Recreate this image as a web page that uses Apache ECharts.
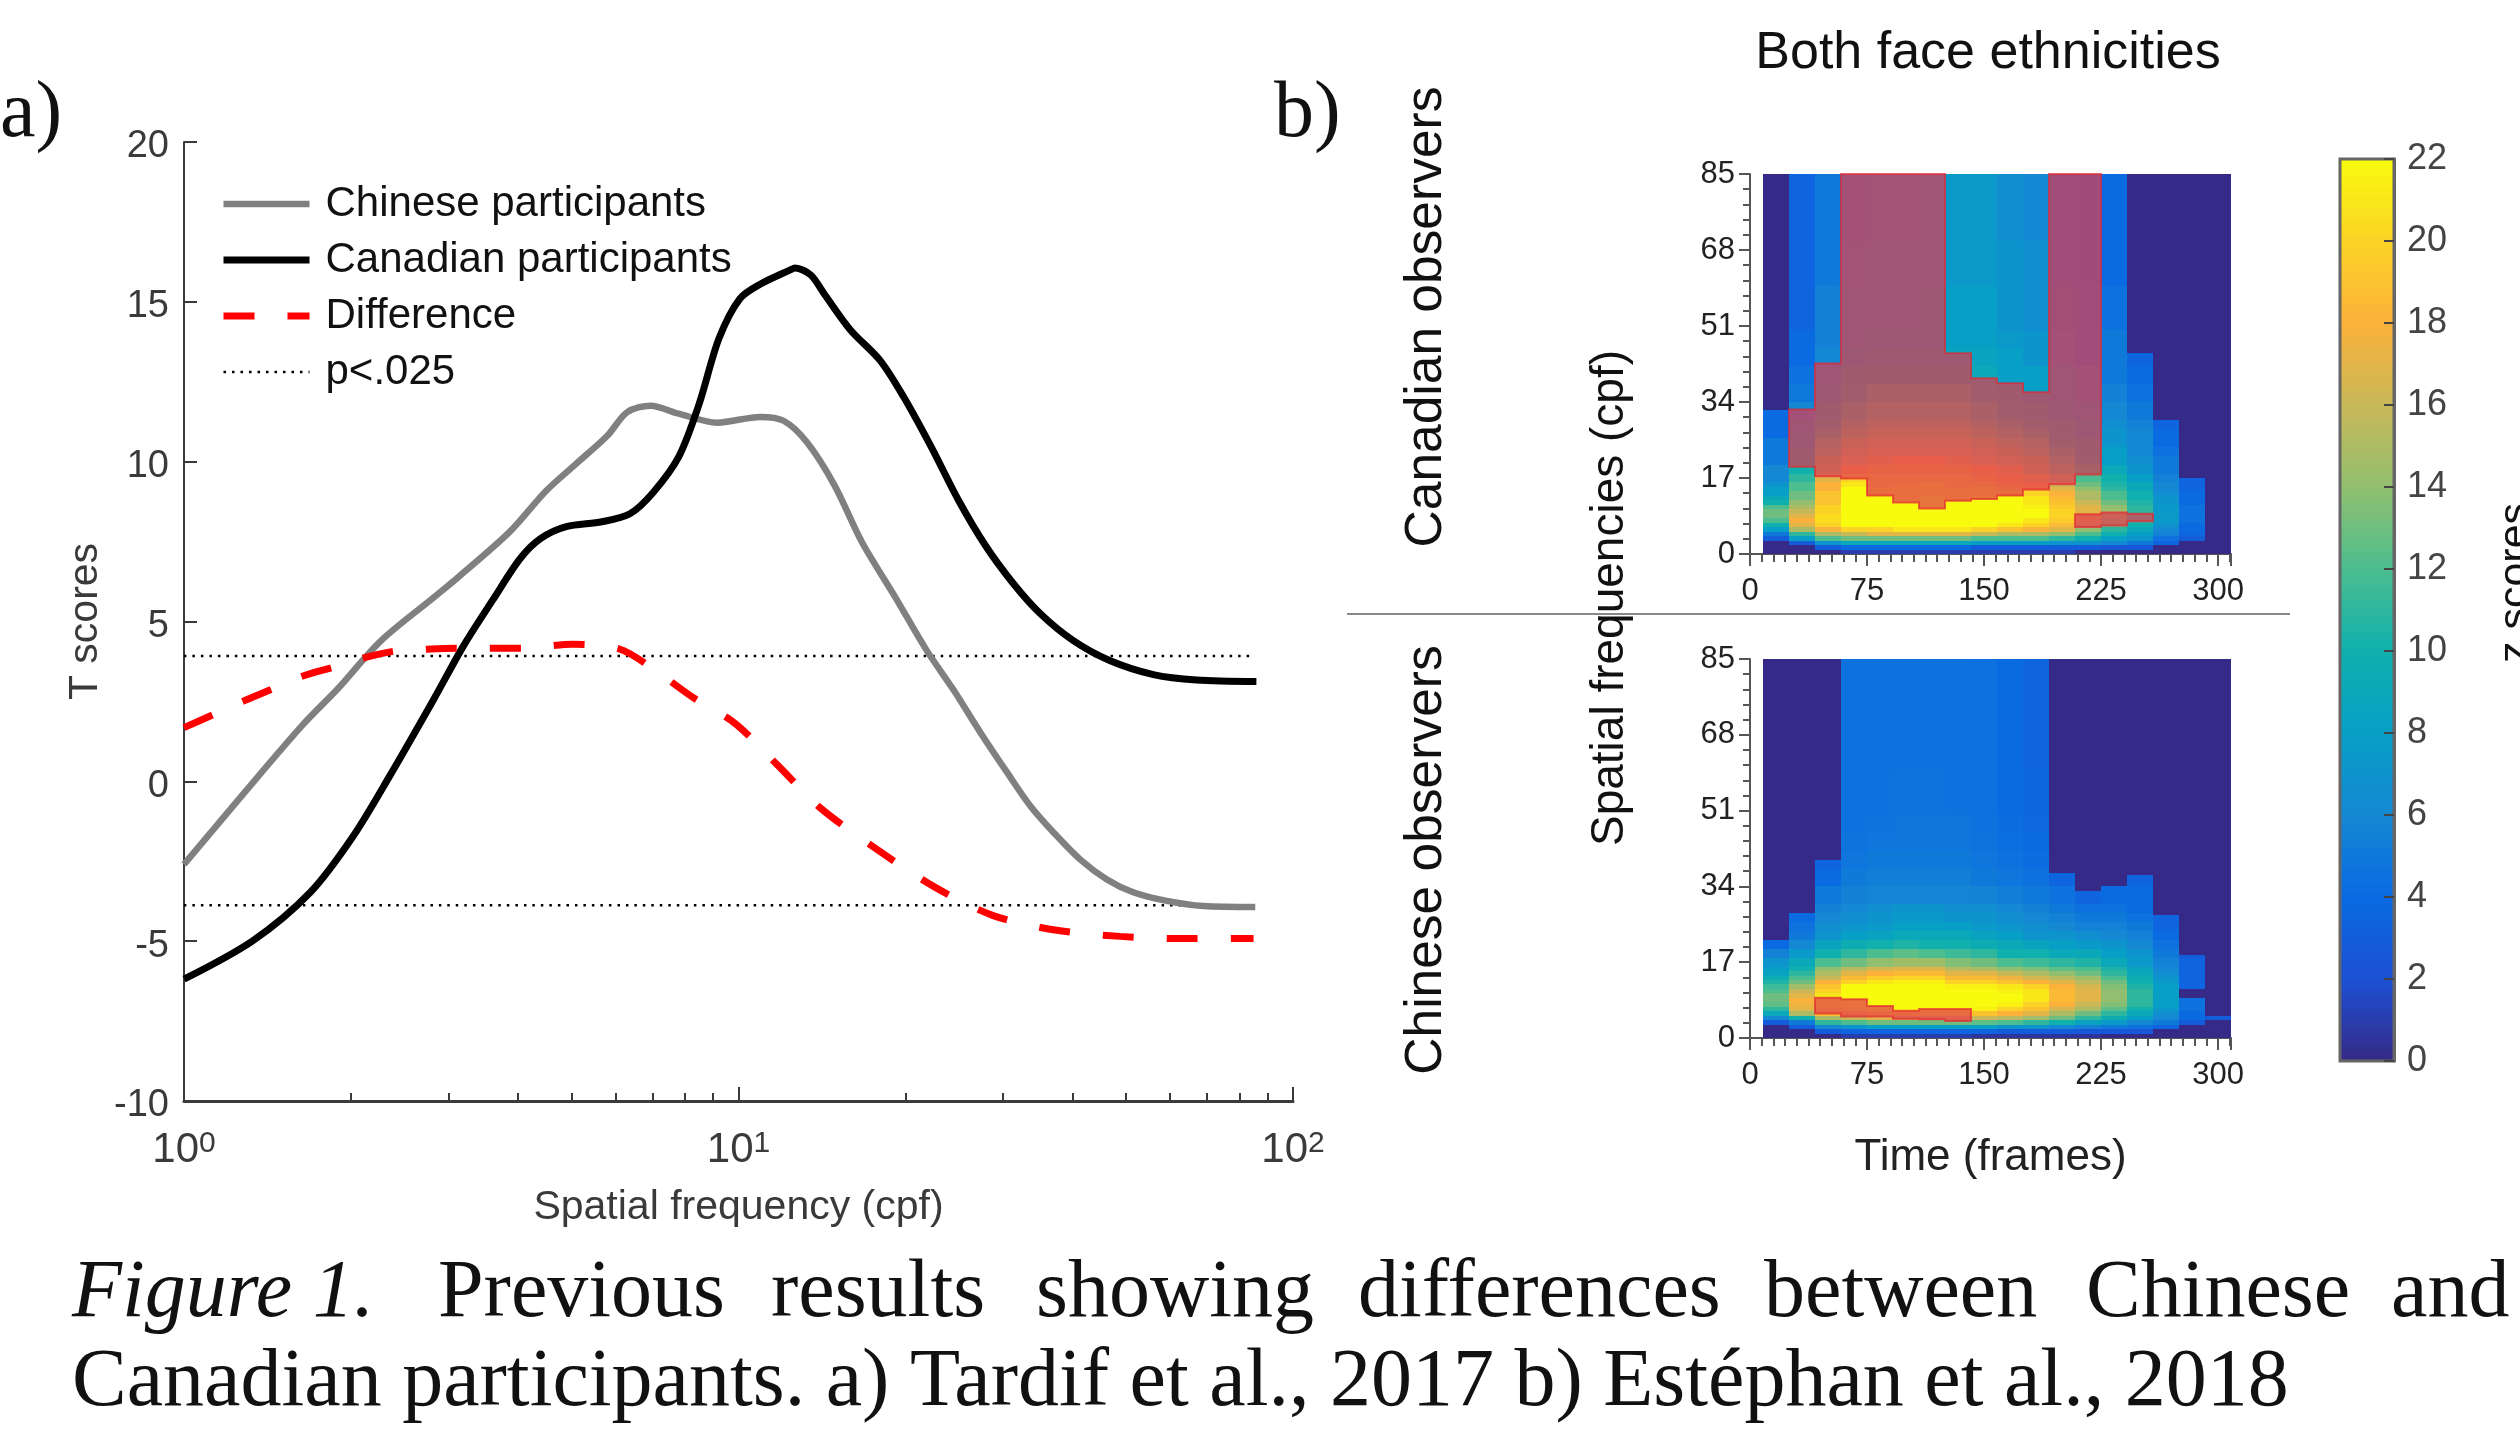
<!DOCTYPE html>
<html>
<head>
<meta charset="utf-8">
<title>Figure 1</title>
<script src="https://cdn.jsdelivr.net/npm/echarts@6/dist/echarts.min.js"></script>
<style>
html, body { margin: 0; padding: 0; background: #fff; overflow: hidden; }
#main { width: 2520px; height: 1431px; }
</style>
</head>
<body>
<div id="main"></div>
<script>
// panel a: [spatial frequency, T score]
var canadian = [[1,-6.19],[1.33,-4.99],[1.69,-3.47],[2.02,-1.71],[2.35,0.17],[2.82,2.56],[3.19,4.23],[3.61,5.69],[4.04,6.97],[4.4,7.6],[4.89,7.97],[5.67,8.12],[6.37,8.37],[7.01,9.03],[7.8,10.15],[8.49,11.8],[9.22,13.85],[10.06,15.1],[10.94,15.55],[12.4,16],[12.65,16.06],[13.5,15.84],[14.3,15.23],[15.9,14.13],[18,13.17],[19.8,12.06],[22.2,10.5],[24.9,8.81],[27.9,7.37],[31.3,6.19],[35,5.25],[40.1,4.41],[46.7,3.78],[56,3.34],[67,3.17],[85.9,3.12]];
var chinese = [[1,-2.6],[1.3,-0.25],[1.64,1.78],[1.89,2.88],[2.26,4.38],[2.82,5.75],[3.13,6.4],[3.87,7.81],[4.5,9.09],[5.1,9.94],[5.8,10.81],[6.3,11.55],[6.94,11.75],[7.8,11.5],[9.15,11.22],[10.94,11.4],[12.06,11.28],[13.3,10.6],[14.9,9.26],[16.7,7.48],[19.1,5.81],[21.8,4.12],[24.4,2.87],[27.3,1.53],[30.5,0.28],[33.6,-0.77],[37,-1.6],[41.3,-2.44],[46.1,-3.06],[51.5,-3.47],[59.2,-3.74],[68.9,-3.9],[85.5,-3.93]];
var difference = [[1,1.68],[1.13,2.09],[1.28,2.51],[1.45,2.9],[1.63,3.28],[1.85,3.56],[2.12,3.87],[2.39,4.07],[2.74,4.13],[3.1,4.16],[4.09,4.16],[5.02,4.29],[6.1,4.14],[6.91,3.6],[8.25,2.64],[9.86,1.81],[11.77,0.5],[14,-0.81],[17.4,-2.02],[22.6,-3.31],[28.8,-4.2],[37.2,-4.65],[48.8,-4.85],[63.4,-4.92],[84.9,-4.92]];
var thresholdUp = [[1,3.92],[85,3.92]];
var thresholdDown = [[1,-3.88],[85,-3.88]];

// panel b: bin edges of the heat maps
var timeEdges = [8.33,25,41.67,58.33,75,91.67,108.33,125,141.67,158.33,175,191.67,208.33,225,241.67,258.33,275,291.67,308.33];
var freqEdges = [0,1,2,3,4,5,6,7,8,9,10,11,12,13,14,15,16,18,20,22,24,26,28,30,34,38,42,46,50,60,70,85];

// z scores, one line per time bin, low frequency first
var zCanadian = [
	[0,0,0,3,5,8,10,12,13,13,12,10,9,8,8,7,6,6,5,5,5,4,4,4],
	[0,0,3,8,11,15,17,18,17,16,15,14,13,13,12,12,11,10,9,9,8,8,7,6,5,4.5,4,4,3.5,3.5,3.5],
	[0,3,7,12,15,18,20,20.5,20.5,20,20,19,19,19,18,18,17,15,14,13,12,11,10,9,8,7,6,5.5,5.5,5,5],
	[1,4,9,13,16,20,22,22,22,22,22,22,22,22,22,21,20,18,16,15,14,13,12,11,10,9,8,7,7,6.5,6],
	[1,4,9,13,17,20,22,22,22,22,22,22,22,21,21,20,20,19,17,16,15,14,13,12,11,9.5,8.5,8,7,7,6.5],
	[1,4,9,13,17,21,22,22,22,22,22,22,21,21,21,20.5,20,19,18,16,15,14,13,12,11,9.5,8.5,8,7,7,6.5],
	[1,4,9,13,17,21,22,22,22,22,22,22,22,21,21,21,20,19,18,16,15,14,13,12,11,9.5,8.5,8,7.5,7,7],
	[1,4,9,13,17,21,22,22,22,22,22,22,21,21,21,20,20,19,17,16,15,14,13,12,11,9.5,8.5,8,8,7.5,7.5],
	[1,3,8,12,16,20,22,22,22,22,22,22,22,21,21,20,19,18,16,15,14,13,12,11,10,9,8.5,8,8,7.5,7.5],
	[1,3,8,12,15,19,21,22,22,22,22,22,22,21,20,19,18,17,15,14,13,12,11,10,9,8,8,7.5,7,7,6.5],
	[1,3,8,12,15,18,20,21,22,22,21.5,21,21,20,19,18,17,15,14,13,12,11,10,9,8,8,7,7,6.5,6.5,6],
	[1,3,7,11,14,17,18.5,19.5,20,20,19.5,19,18.5,18,17,16,15,13,12,11,10,9,9,8,7,7,6,6,5.5,5,5],
	[0,3,7,10,12,14,16,17,17,17,17,16,15,15,14,13,12,11,10,9,9,8,8,7,6,6,5,5,5,4.5,4.5],
	[0,2.5,6,8,10,11,13,14,14.5,14.5,14,13,12,12,11,10.5,10,9,8,8,7,7,6.5,6,5.5,5,5,5,4.5,4,4],
	[0,2.5,5,7,8,9,10,11,11,11,11,10.5,10,10,9,9,8,7,6.5,6,6,6,5.5,5,4.5,4,3.5],
	[0,0,3.5,4.5,5.5,6,7,7.5,7.5,7.5,7.5,7,7,6.5,6,6,5.5,5,5,4.5,4,4,3.5,3.5],
	[0,0,0,3,3.5,4,4,4.5,4.5,4.5,4.5,4,4,4,3.5,3.5,3.5],
	[]
];
var zChinese = [
	[0,0,0,3,6,9,11,12.5,13,13,12,11.5,10.5,9.5,8.5,8,7,5.5,4],
	[0,0,3,5,10,15,17,17.5,18,17,16,14.5,13,12,11,10,9,7.5,6,5,4.5,4],
	[0,3,6,11,15,19,20,21,21,21,20,19,18,16,15,14,12,10,8.5,7,6.5,6,5.5,5,4,3.5],
	[1,3.5,7,12,16,19,21,21.5,22,22,22,22,20,18.5,17,15.5,13,11,9.5,8,7,6.5,6,5.5,5.1,4.8,4.6,4.5,4.5,4.5,4.5],
	[1,3.5,8,13,17,20,21.5,22,22,22,22,22,21,19.5,18,16.5,14,12,10,8.5,7.5,7,6.5,5.8,5.3,5,4.8,4.6,4.5,4.5,4.5],
	[1,3.5,8,13,17,20,22,22,22,22,22,22,21.5,20,18.5,17,14.5,12.5,10.5,9,8,7.5,7,5.8,5.3,5,4.8,4.7,4.6,4.5,4.5],
	[1,3.5,8,13,17,20.5,22,22,22,22,22,22,21.5,20,18.5,17,14.5,12,10,9,8,7.5,7,5.8,5.3,5,4.8,4.7,4.6,4.5,4.5],
	[1,3.5,8,13,17,20.5,22,22,22,22,22,21.5,20,18.5,17,15.5,13.5,11.5,10,9,8,7,6.5,5.8,5.3,5,4.8,4.7,4.5,4.5,4.5],
	[0.5,3.5,8,12.5,16,19,21.5,22,22,22,22,21.5,20,18.5,17,15,13,11,9.5,8.5,7.5,7,6.5,5.7,5,4.8,4.6,4.5,4.4,4.4,4.4],
	[0.5,3,7,12,15.5,18,20,21.5,22,22,21.5,21,19,17.5,16,14,12,10,9,8,7,6.5,6,5.3,4.8,4.5,4.3,4.2,4,4,4],
	[0.5,3,7,11,14.5,17,19,20,21,21,21,20,18,16.5,15,13.5,11.5,10,8.5,7,6.5,6,5.5,5,4.5,4.2,4,3.8,3.7,3.6,3.5],
	[0.5,3,6,10,13,15,16.5,18,18.5,18.5,18.5,18,17,15.5,14,12.5,11,9,8,7,6,5.5,5,4.5,3.5],
	[0.5,2.5,5.5,8.5,11,13,15,16,17,17,17,16.5,15.5,14.5,13,12,10.5,9,7.5,6.5,5.5,5,4.5,3.5],
	[0,2.5,5,7.5,9.5,11,12.5,13.5,14,14,14,13.5,13,12,11,10.5,9,8,7,6,5.5,5,4.5,4],
	[0,2.5,4.5,6,8,9,10,11,11,11,11,10.5,10,9.5,9,8.5,7.5,7,6,5.5,5,4.5,4,4,3.5],
	[0,0,3.5,5,6,6.5,7.5,8,8,8,8,8,7.5,7,6.5,6,5.5,5,4.5,4,3.5,3.5],
	[0,0,0,3,4,4,4.5,4.5,4.5,0,0,3.5,3.5,3.5,3.5,3.5,3.5,3],
	[0,0,0,0,3]
];
// highest frequency reached by the coloured part of each time bin
var topCanadian = [32.3,85,85,85,85,85,85,85,85,85,85,85,85,85,44.9,30,17,0];
var topChinese = [22,28,40,85,85,85,85,85,85,85,85,37,33,34.5,36.6,27.5,18.6,5];

// significant regions: [time bin, low frequency, high frequency]
var sigCanadianA = [[1,19.5,32.3],[2,17.4,42.6],[3,16.9,85],[4,13.1,85],[5,11.5,85],[6,10.2,85],[7,11.9,44.9],[8,12.3,39.3],[9,13.1,38.2],[10,14.4,36.2],[11,15.6,85],[12,17.8,85]];
var sigCanadianB = [[12,6.05,8.9],[13,6.4,9.3],[14,7.3,9]];
var sigChinese = [[2,5.5,9],[3,4.8,8.7],[4,4.8,7.2],[5,4.3,6.1],[6,4.2,6.5],[7,3.8,6.5]];

var parula = ['#352a87','#1c50d4','#0a6ae2','#1488d2','#079fc6','#0fb0ad','#4cbd8f','#92bf6f','#c9b858','#fbb13a','#fbd326','#f9fb0e'];

var font = 'Liberation Sans';
var serif = 'Liberation Serif';
var inkGrey = '#3a3a3a';

function heatCells(matrix, tops) {
	var cells = [];
	matrix.forEach(function (col, i) {
		var t0 = timeEdges[i], t1 = timeEdges[i + 1];
		cells.push([t0, t1, 0, 85, 0]);
		col.forEach(function (z, j) {
			var lo = freqEdges[j], hi = Math.min(freqEdges[j + 1], tops[i]);
			if (z > 0 && hi > lo) cells.push([t0, t1, lo, hi, z]);
		});
	});
	return cells;
}

function renderCell(params, api) {
	var a = api.coord([api.value(0), api.value(3)]);
	var b = api.coord([api.value(1), api.value(2)]);
	var x = Math.round(a[0]), y = Math.round(a[1]);
	return {
		type: 'rect',
		shape: { x: x, y: y, width: Math.round(b[0]) - x, height: Math.round(b[1]) - y },
		style: { fill: api.visual('color') }
	};
}

function sigPolygon(list) {
	var pts = [];
	list.forEach(function (r) { pts.push([timeEdges[r[0]], r[2]], [timeEdges[r[0] + 1], r[2]]); });
	list.slice().reverse().forEach(function (r) { pts.push([timeEdges[r[0] + 1], r[1]], [timeEdges[r[0]], r[1]]); });
	return pts;
}

function sigSeries(regions, axis) {
	var polys = regions.map(sigPolygon);
	return {
		type: 'custom',
		xAxisIndex: axis,
		yAxisIndex: axis,
		coordinateSystem: 'cartesian2d',
		data: polys.map(function (p, i) { return [i]; }),
		silent: true,
		z: 5,
		renderItem: function (params, api) {
			return {
				type: 'polygon',
				shape: { points: polys[params.dataIndex].map(function (p) { return api.coord(p); }) },
				style: { fill: 'rgba(224,58,80,0.7)', stroke: 'rgba(226,40,50,0.7)', lineWidth: 2 }
			};
		}
	};
}

function heatSeries(matrix, tops, axis) {
	return {
		type: 'custom',
		xAxisIndex: axis,
		yAxisIndex: axis,
		coordinateSystem: 'cartesian2d',
		data: heatCells(matrix, tops),
		dimensions: ['t0', 't1', 'f0', 'f1', 'z'],
		encode: { x: [0, 1], y: [2, 3] },
		renderItem: renderCell,
		silent: true,
		z: 2
	};
}

function heatX(idx, named) {
	return {
		type: 'value', gridIndex: idx, min: 0, max: 308.33, interval: 75,
		name: named ? 'Time (frames)' : '', nameLocation: 'middle', nameGap: 98,
		nameTextStyle: { fontFamily: font, fontSize: 44, color: '#222' },
		splitLine: { show: false },
		axisLine: { onZero: false, lineStyle: { color: '#555', width: 2 } },
		axisTick: { length: 12, lineStyle: { color: '#555', width: 2 } },
		minorTick: { show: true, splitNumber: 10, length: 8, lineStyle: { color: '#555', width: 2 } },
		axisLabel: { fontFamily: font, fontSize: 31, color: '#222', margin: 22, showMaxLabel: false }
	};
}

function heatY(idx) {
	return {
		type: 'value', gridIndex: idx, min: 0, max: 85, interval: 17,
		splitLine: { show: false },
		axisLine: { lineStyle: { color: '#555', width: 2 } },
		axisTick: { length: 11, lineStyle: { color: '#555', width: 2 } },
		minorTick: { show: true, splitNumber: 5, length: 7, lineStyle: { color: '#555', width: 2 } },
		axisLabel: { fontFamily: font, fontSize: 31, color: '#222', margin: 15 }
	};
}

function lineSeries(name, data, color, width, dash) {
	return {
		name: name, type: 'line', xAxisIndex: 0, yAxisIndex: 0, data: data,
		symbol: 'none', smooth: 0.3, z: 3,
		lineStyle: { color: color, width: width, type: dash || 'solid', cap: 'butt' },
		itemStyle: { color: color }
	};
}

function label(text, x, y, size, rotated, family, style, align) {
	return {
		type: 'text', x: x, y: y, rotation: rotated ? Math.PI / 2 : 0, silent: true,
		style: {
			text: text, fill: '#111', textAlign: align || (rotated ? 'center' : 'left'), textVerticalAlign: 'middle',
			font: (style || 'normal') + ' ' + size + 'px "' + (family || font) + '"'
		}
	};
}

var captionWords = [
	['Figure 1.', 72, 'italic'], ['Previous', 438], ['results', 771], ['showing', 1036],
	['differences', 1358], ['between', 1764], ['Chinese', 2086], ['and', 2391]
];
var captionLine2 = 'Canadian participants. a) Tardif et al., 2017 b) Estéphan et al., 2018';

var graphics = [
	label('a)', 0, 115, 80, false, serif),
	label('b)', 1274, 115, 80, false, serif),
	label('Canadian observers', 1427, 317, 51.5, true),
	label('Chinese observers', 1427, 860, 51.5, true),
	label('Spatial frequencies (cpf)', 1610, 598, 46, true),
	label('z scores', 2516, 583, 43, true),
	label(captionLine2, 72, 1383, 82, false, serif),
	{
		type: 'line', silent: true,
		shape: { x1: 1347, y1: 614, x2: 2290, y2: 614 },
		style: { stroke: '#888', lineWidth: 2 }
	}
];
captionWords.forEach(function (w) {
	graphics.push(label(w[0], w[1], 1294, 82, false, serif, w[2]));
});

var myChart = echarts.init(document.getElementById('main'), null, { renderer: 'canvas' });

var option = {
	animation: false,
	backgroundColor: '#fff',
	title: {
		text: 'Both face ethnicities', left: 1988, top: 28, textAlign: 'center', padding: 0,
		textStyle: { fontFamily: font, fontSize: 52, fontWeight: 'normal', color: '#111' }
	},
	legend: {
		left: 220, top: 183, padding: 0, orient: 'vertical', itemWidth: 86, itemHeight: 14, itemGap: 14,
		data: ['Chinese participants', 'Canadian participants', 'Difference', 'p<.025'],
		itemStyle: { opacity: 0 },
		lineStyle: { width: 'inherit' },
		textStyle: { fontFamily: font, fontSize: 42, color: '#111', padding: [0, 0, 0, 11] }
	},
	grid: [
		{ left: 184, top: 142, width: 1109, height: 959 },
		{ left: 1750, top: 174, width: 481, height: 380 },
		{ left: 1750, top: 659, width: 481, height: 379 },
		{ left: 2340, top: 159, width: 54, height: 902, show: true, borderColor: '#666', borderWidth: 3, backgroundColor: 'transparent', z: 10 }
	],
	xAxis: [
		{
			type: 'log', gridIndex: 0, min: 1, max: 100, logBase: 10,
			name: 'Spatial frequency (cpf)', nameLocation: 'middle', nameGap: 86,
			nameTextStyle: { fontFamily: font, fontSize: 41, color: inkGrey },
			splitLine: { show: false },
			axisLine: { onZero: false, lineStyle: { color: inkGrey, width: 3 } },
			axisTick: { inside: true, length: 14, lineStyle: { color: inkGrey, width: 2 } },
			minorTick: { show: true, splitNumber: 9, length: 8, lineStyle: { color: inkGrey, width: 2 } },
			minorSplitLine: { show: false },
			axisLabel: {
				margin: 28,
				formatter: function (v) { return '{b|10}{e|' + Math.round(Math.log10(v)) + '}'; },
				rich: {
					b: { fontFamily: font, fontSize: 42, color: inkGrey },
					e: { fontFamily: font, fontSize: 30, color: inkGrey, verticalAlign: 'top' }
				}
			}
		},
		heatX(1, false),
		heatX(2, true),
		{ type: 'value', gridIndex: 3, min: 0, max: 1, show: false }
	],
	yAxis: [
		{
			type: 'value', gridIndex: 0, min: -10, max: 20, interval: 5,
			name: 'T scores', nameLocation: 'middle', nameGap: 78, nameRotate: 90,
			nameTextStyle: { fontFamily: font, fontSize: 41, color: inkGrey },
			splitLine: { show: false },
			axisLine: { lineStyle: { color: inkGrey, width: 2 } },
			axisTick: { inside: true, length: 13, lineStyle: { color: inkGrey, width: 2 } },
			axisLabel: {
				margin: 15,
				formatter: '{n|{value}}',
				rich: { n: { fontFamily: font, fontSize: 38, color: inkGrey, padding: [10, 0, 0, 0] } }
			}
		},
		heatY(1),
		heatY(2),
		{
			type: 'value', gridIndex: 3, min: 0, max: 22, interval: 2, position: 'right', z: 10,
			splitLine: { show: false },
			axisLine: { show: true, onZero: false, lineStyle: { color: '#666', width: 3 } },
			axisTick: { inside: true, length: 10, lineStyle: { color: '#444', width: 2 } },
			axisLabel: { fontFamily: font, fontSize: 36, color: '#444', margin: 13 }
		}
	],
	visualMap: {
		type: 'continuous', seriesIndex: [5, 7], dimension: 4, min: 0, max: 22,
		left: 2340, top: 159, itemWidth: 54, itemHeight: 902, padding: 0, calculable: false, z: 2,
		inRange: { color: parula }
	},
	graphic: graphics,
	series: [
		lineSeries('p<.025', thresholdUp, '#000', 2.5, [2.5, 6]),
		lineSeries('p<.025', thresholdDown, '#000', 2.5, [2.5, 6]),
		lineSeries('Chinese participants', chinese, '#808080', 6.5),
		lineSeries('Canadian participants', canadian, '#000', 7),
		lineSeries('Difference', difference, '#f00', 7, [31, 33]),
		heatSeries(zCanadian, topCanadian, 1),
		sigSeries([sigCanadianA, sigCanadianB], 1),
		heatSeries(zChinese, topChinese, 2),
		sigSeries([sigChinese], 2)
	]
};

myChart.setOption(option);
</script>
</body>
</html>
